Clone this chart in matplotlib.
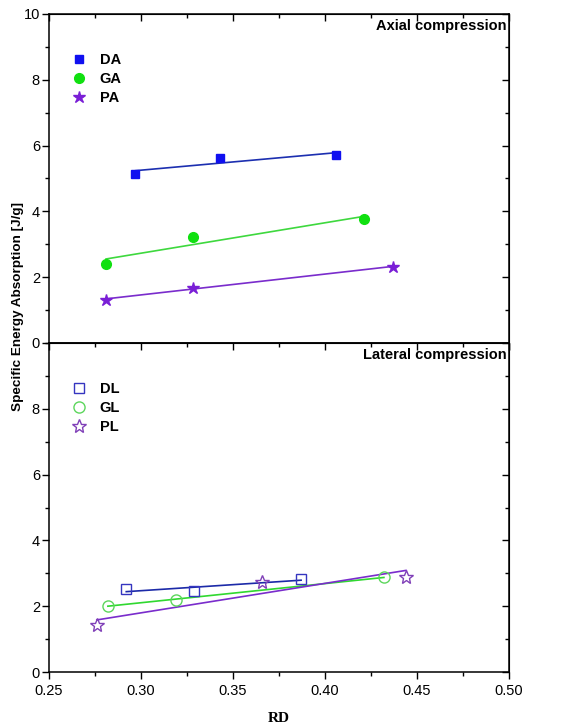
import matplotlib
matplotlib.use("Agg")
import matplotlib.pyplot as plt
from matplotlib.ticker import MultipleLocator, FixedLocator
import numpy as np

plt.rcParams['font.family'] = ['Liberation Sans', 'DejaVu Sans']
plt.rcParams['font.size'] = 10

# axial compression
da_x = [0.297, 0.343, 0.406]
da_y = [5.15, 5.62, 5.72]
ga_x = [0.281, 0.328, 0.421]
ga_y = [2.40, 3.22, 3.77]
pa_x = [0.281, 0.328, 0.437]
pa_y = [1.32, 1.67, 2.32]

# lateral compression
dl_x = [0.292, 0.329, 0.387]
dl_y = [2.52, 2.45, 2.84]
gl_x = [0.282, 0.319, 0.432]
gl_y = [2.02, 2.19, 2.88]
pl_x = [0.276, 0.366, 0.444]
pl_y = [1.42, 2.74, 2.90]


def fit_line(ax, x, y, color):
    k, b = np.polyfit(x, y, 1)
    xs = np.array([min(x), max(x)])
    ax.plot(xs, k * xs + b, color=color, lw=1.2, zorder=2)


def style_axes(ax, labels):
    ax.set_xlim(0.25, 0.50)
    ax.set_ylim(0, 10)
    ax.xaxis.set_major_locator(MultipleLocator(0.05))
    ax.xaxis.set_minor_locator(MultipleLocator(0.025))
    if labels:
        # lower panel: top "10" is covered by the upper panel's "0"
        ax.yaxis.set_major_locator(FixedLocator([0, 2, 4, 6, 8]))
    else:
        ax.yaxis.set_major_locator(MultipleLocator(2))
    ax.yaxis.set_minor_locator(MultipleLocator(1))
    ax.tick_params(which='major', direction='out', length=5, width=1, labelsize=10.5)
    ax.tick_params(which='minor', direction='out', length=3, width=1)
    ax.tick_params(axis='y', which='major', pad=1.5)
    if not labels:
        ax.tick_params(axis='x', labelbottom=False)
    for s in ax.spines.values():
        s.set_linewidth(1.1)
    # mirrored ticks on top/right, pointing in
    top = ax.secondary_xaxis('top')
    top.xaxis.set_major_locator(MultipleLocator(0.05))
    top.xaxis.set_minor_locator(MultipleLocator(0.025))
    top.tick_params(which='major', direction='in', length=5, width=1, labeltop=False)
    top.tick_params(which='minor', direction='in', length=3, width=1)
    right = ax.secondary_yaxis('right')
    right.yaxis.set_major_locator(MultipleLocator(2))
    right.yaxis.set_minor_locator(MultipleLocator(1))
    right.tick_params(which='major', direction='in', length=5, width=1, labelright=False)
    right.tick_params(which='minor', direction='in', length=3, width=1)


fig = plt.figure(figsize=(5.69, 7.25), dpi=100)
ax1 = fig.add_axes([0.0861, 0.5269, 0.8085, 0.4538])
ax2 = fig.add_axes([0.0861, 0.0731, 0.8085, 0.4538])

# top panel
ax1.plot(da_x, da_y, 's', color='#1010f0', ms=6, ls='none', label='DA', zorder=3)
ax1.plot(ga_x, ga_y, 'o', color='#10e010', ms=7, ls='none', label='GA', zorder=3)
ax1.plot(pa_x, pa_y, '*', color='#7a1fd6', ms=9, ls='none', label='PA', zorder=3)
fit_line(ax1, da_x, da_y, '#1c2fb0')
fit_line(ax1, ga_x, ga_y, '#3ed83e')
fit_line(ax1, pa_x, pa_y, '#7a2ccc')
style_axes(ax1, False)
ax1.text(0.995, 0.985, 'Axial compression', transform=ax1.transAxes,
         ha='right', va='top', fontweight='bold', fontsize=10.5)
leg = ax1.legend(loc='upper left', bbox_to_anchor=(0.02, 0.92), frameon=False,
                 handletextpad=0.9, labelspacing=0.35, handlelength=1.2)
for t in leg.get_texts():
    t.set_fontweight('bold')
    t.set_fontsize(10.5)

# bottom panel
ax2.plot(dl_x, dl_y, 's', mfc='none', mec='#3535c0', mew=1.0, ms=7, ls='none', label='DL', zorder=3)
ax2.plot(gl_x, gl_y, 'o', mfc='none', mec='#5cd65c', mew=1.0, ms=8, ls='none', label='GL', zorder=3)
ax2.plot(pl_x, pl_y, '*', mfc='none', mec='#8040b8', mew=1.0, ms=10, ls='none', label='PL', zorder=3)
fit_line(ax2, dl_x, dl_y, '#1c2aa8')
fit_line(ax2, gl_x, gl_y, '#30d830')
fit_line(ax2, pl_x, pl_y, '#7a2ccc')
style_axes(ax2, True)
ax2.text(0.995, 0.985, 'Lateral compression', transform=ax2.transAxes,
         ha='right', va='top', fontweight='bold', fontsize=10.5)
leg = ax2.legend(loc='upper left', bbox_to_anchor=(0.02, 0.92), frameon=False,
                 handletextpad=0.9, labelspacing=0.35, handlelength=1.2)
for t in leg.get_texts():
    t.set_fontweight('bold')
    t.set_fontsize(10.5)

ax2.set_xlabel('RD', family='Liberation Serif', fontweight='bold', fontsize=11, labelpad=10)
fig.text(0.032, 0.577, 'Specific Energy Absorption [J/g]', rotation=90,
         ha='center', va='center', fontweight='bold', fontsize=9.7)

fig.savefig('out.png', dpi=100)
